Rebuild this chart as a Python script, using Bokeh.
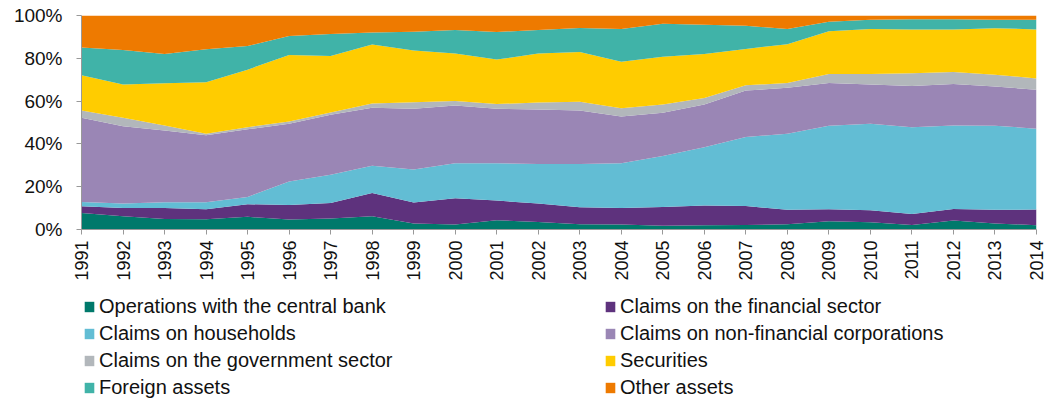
import math
from bokeh.plotting import figure
from bokeh.layouts import column
from bokeh.models import Range1d, Legend, LegendItem, FixedTicker, ColumnDataSource
from bokeh.embed import file_html
from bokeh.resources import INLINE

years = list(range(1991, 2015))
x_tick_labels = [str(y) for y in years]
y_ticks = [0, 20, 40, 60, 80, 100]
y_tick_labels = ["0%", "20%", "40%", "60%", "80%", "100%"]

central_bank = [7.7, 6.2, 4.9, 4.8, 5.9, 4.7, 5.1, 6.2, 2.8, 2.3, 4.3, 3.5, 2.5, 2.3, 1.7, 2.0, 2.1, 2.5, 3.9, 3.4, 2.1, 4.2, 2.8, 2.0]
financial = [3.2, 3.9, 5.2, 4.7, 5.9, 6.8, 7.3, 10.9, 9.8, 12.3, 9.2, 8.6, 7.9, 7.8, 8.8, 9.2, 8.9, 6.7, 5.6, 5.6, 5.2, 5.4, 6.4, 7.3]
households = [2.0, 2.0, 2.6, 3.2, 3.4, 10.9, 13.2, 12.7, 15.4, 16.3, 17.4, 18.5, 20.2, 20.8, 23.8, 27.2, 32.2, 35.6, 39.0, 40.4, 40.5, 39.0, 39.3, 37.8]
non_financial = [39.3, 36.1, 33.6, 31.4, 31.6, 27.0, 28.0, 27.1, 28.4, 27.0, 25.5, 25.5, 25.0, 21.9, 20.2, 20.0, 21.7, 21.4, 19.9, 18.3, 19.3, 19.4, 18.3, 18.2]
government = [3.4, 4.0, 2.3, 0.7, 1.0, 1.1, 1.1, 2.0, 3.1, 2.1, 2.2, 3.2, 4.1, 3.9, 3.9, 3.1, 2.5, 2.2, 4.3, 5.0, 5.9, 5.6, 5.5, 5.3]
securities = [16.5, 15.5, 19.7, 24.0, 26.9, 31.1, 26.4, 27.6, 24.1, 22.3, 20.8, 22.9, 23.2, 21.7, 22.3, 20.5, 17.0, 18.2, 19.9, 21.0, 20.4, 19.8, 21.8, 22.9]
foreign = [13.0, 16.2, 13.7, 15.4, 11.0, 8.8, 10.3, 5.6, 8.8, 10.9, 12.9, 11.0, 11.3, 15.3, 15.4, 13.7, 10.8, 7.1, 4.5, 4.3, 4.9, 4.9, 3.9, 4.5]
other = [14.9, 16.1, 18.0, 15.8, 14.3, 9.6, 8.6, 7.9, 7.6, 6.8, 7.7, 6.8, 5.8, 6.3, 3.9, 4.3, 4.8, 6.3, 2.9, 2.0, 1.7, 1.7, 2.0, 2.0]

series_names = [
    "Operations with the central bank",
    "Claims on the financial sector",
    "Claims on households",
    "Claims on non-financial corporations",
    "Claims on the government sector",
    "Securities",
    "Foreign assets",
    "Other assets",
]
series_keys = ["cb", "fin", "hh", "nfc", "gov", "sec", "for", "oth"]
series_values = [central_bank, financial, households, non_financial, government, securities, foreign, other]
colors = ["#00796B", "#5E327D", "#62BDD4", "#9A86B5", "#B2B7BB", "#FFCC00", "#40B3A8", "#EE7A00"]

data = {"year": years}
for k, v in zip(series_keys, series_values):
    data[k] = v
source = ColumnDataSource(data)

FONT = "Liberation Sans"
W = 1048

# main chart
p = figure(
    width=W, height=284,
    output_backend="svg", toolbar_location=None,
    x_range=Range1d(1991, 2014), y_range=Range1d(0, 100),
    min_border_left=81, min_border_right=12, min_border_top=15, min_border_bottom=55,
)
p.outline_line_color = None
p.grid.visible = False

p.varea_stack(stackers=series_keys, x="year", color=colors, source=source)

p.xaxis.ticker = FixedTicker(ticks=years)
p.xaxis.major_label_overrides = {y: s for y, s in zip(years, x_tick_labels)}
p.xaxis.major_label_orientation = math.pi / 2
p.xaxis.major_label_text_font = FONT
p.xaxis.major_label_text_font_size = "18px"
p.xaxis.major_label_text_color = "#111111"
p.xaxis.major_label_standoff = 6
p.xaxis.minor_tick_line_color = None
p.xaxis.major_tick_out = 5
p.xaxis.major_tick_in = 0
p.xaxis.axis_line_color = "#999999"
p.xaxis.major_tick_line_color = "#999999"

p.yaxis.ticker = FixedTicker(ticks=y_ticks)
p.yaxis.major_label_overrides = {t: s for t, s in zip(y_ticks, y_tick_labels)}
p.yaxis.major_label_text_font = FONT
p.yaxis.major_label_text_font_size = "19px"
p.yaxis.major_label_text_color = "#111111"
p.yaxis.major_label_standoff = 14
p.yaxis.minor_tick_line_color = None
p.yaxis.major_tick_out = 5
p.yaxis.major_tick_in = 0
p.yaxis.axis_line_color = "#999999"
p.yaxis.major_tick_line_color = "#999999"

# legend panel: same series, drawn out of its view so that only the legend shows
lg = figure(
    width=W, height=115,
    output_backend="svg", toolbar_location=None,
    x_range=Range1d(1991, 2014), y_range=Range1d(-20, -10),
    x_axis_location=None, y_axis_location=None,
    min_border_left=0, min_border_right=0, min_border_top=0, min_border_bottom=0,
)
lg.outline_line_color = None
lg.grid.visible = False
lg_renderers = lg.varea_stack(stackers=series_keys, x="year", color=colors, source=source)

order = [0, 2, 4, 6, 1, 3, 5, 7]  # column-major fill -> row-major reading order
items = [LegendItem(label=series_names[i], renderers=[lg_renderers[i]]) for i in order]
legend = Legend(
    items=items,
    location=(2, -2),
    orientation="vertical",
    ncols=2,
    glyph_width=12, glyph_height=13,
    label_width=505, label_height=27,
    label_standoff=4,
    spacing=0, padding=0, margin=0,
    label_text_font=FONT, label_text_font_size="20px", label_text_color="#111111",
    border_line_color=None, background_fill_alpha=0,
)
lg.add_layout(legend, "center")

layout = column(p, lg, spacing=0)
open("out.html", "w").write(file_html(layout, INLINE))
